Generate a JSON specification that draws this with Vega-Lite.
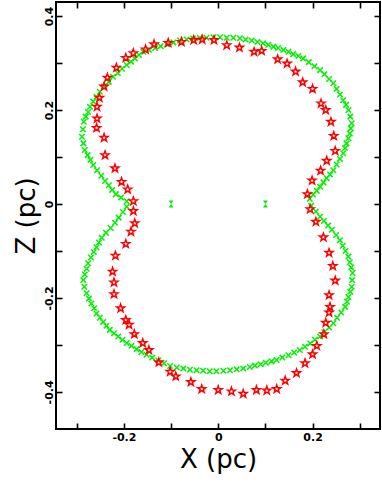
{
"$schema":"https://vega.github.io/schema/vega-lite/v6.json",
"width":324,"height":427,"autosize":"none",
"padding":{"left":56,"top":2,"right":2,"bottom":55},
"background":"white",
"config":{"view":{"stroke":"black","strokeWidth":2},
"axis":{"domain":false,"grid":false,"tickColor":"black","tickSize":-6,"tickWidth":1.6,
"labelFont":"DejaVu Sans","labelFontWeight":"bold","labelFontSize":11,"labelColor":"black",
"titleFont":"DejaVu Sans","titleFontWeight":"normal","titleFontSize":26,"titleColor":"black"}},
"datasets":{
"green":[
{"x":0.194,"z":0.011},{"x":0.201,"z":0.020},{"x":0.209,"z":0.028},{"x":0.216,"z":0.037},{"x":0.223,"z":0.046},{"x":0.230,"z":0.055},{"x":0.237,"z":0.063},{"x":0.244,"z":0.072},{"x":0.251,"z":0.084},{"x":0.258,"z":0.096},{"x":0.265,"z":0.108},{"x":0.269,"z":0.119},{"x":0.272,"z":0.129},{"x":0.276,"z":0.140},{"x":0.279,"z":0.150},{"x":0.281,"z":0.161},{"x":0.283,"z":0.172},{"x":0.280,"z":0.186},{"x":0.276,"z":0.200},{"x":0.271,"z":0.211},{"x":0.265,"z":0.221},{"x":0.258,"z":0.233},{"x":0.251,"z":0.245},{"x":0.244,"z":0.257},{"x":0.235,"z":0.266},{"x":0.225,"z":0.276},{"x":0.216,"z":0.285},{"x":0.204,"z":0.293},{"x":0.192,"z":0.302},{"x":0.180,"z":0.310},{"x":0.170,"z":0.315},{"x":0.159,"z":0.319},{"x":0.149,"z":0.324},{"x":0.138,"z":0.328},{"x":0.127,"z":0.332},{"x":0.117,"z":0.335},{"x":0.106,"z":0.339},{"x":0.095,"z":0.342},{"x":0.083,"z":0.345},{"x":0.071,"z":0.348},{"x":0.058,"z":0.350},{"x":0.046,"z":0.353},{"x":0.032,"z":0.354},{"x":0.018,"z":0.354},{"x":0.004,"z":0.355},{"x":-0.010,"z":0.355},{"x":-0.025,"z":0.354},{"x":-0.039,"z":0.354},{"x":-0.053,"z":0.352},{"x":-0.067,"z":0.350},{"x":-0.081,"z":0.348},{"x":-0.095,"z":0.344},{"x":-0.109,"z":0.340},{"x":-0.122,"z":0.336},{"x":-0.134,"z":0.332},{"x":-0.147,"z":0.328},{"x":-0.159,"z":0.324},{"x":-0.168,"z":0.317},{"x":-0.177,"z":0.310},{"x":-0.185,"z":0.303},{"x":-0.194,"z":0.296},{"x":-0.204,"z":0.288},{"x":-0.213,"z":0.279},{"x":-0.223,"z":0.271},{"x":-0.232,"z":0.260},{"x":-0.242,"z":0.250},{"x":-0.251,"z":0.239},{"x":-0.258,"z":0.228},{"x":-0.265,"z":0.218},{"x":-0.272,"z":0.207},{"x":-0.276,"z":0.196},{"x":-0.281,"z":0.186},{"x":-0.285,"z":0.175},{"x":-0.287,"z":0.159},{"x":-0.289,"z":0.143},{"x":-0.286,"z":0.129},{"x":-0.283,"z":0.115},{"x":-0.277,"z":0.104},{"x":-0.271,"z":0.094},{"x":-0.265,"z":0.083},{"x":-0.257,"z":0.072},{"x":-0.248,"z":0.060},{"x":-0.240,"z":0.049},{"x":-0.232,"z":0.040},{"x":-0.225,"z":0.030},{"x":-0.217,"z":0.021},{"x":-0.206,"z":0.014},{"x":-0.194,"z":0.006},
{"x":-0.194,"z":-0.006},{"x":-0.202,"z":-0.017},{"x":-0.211,"z":-0.029},{"x":-0.219,"z":-0.040},{"x":-0.228,"z":-0.051},{"x":-0.238,"z":-0.061},{"x":-0.247,"z":-0.072},{"x":-0.253,"z":-0.082},{"x":-0.258,"z":-0.092},{"x":-0.264,"z":-0.102},{"x":-0.270,"z":-0.114},{"x":-0.276,"z":-0.126},{"x":-0.279,"z":-0.138},{"x":-0.283,"z":-0.150},{"x":-0.286,"z":-0.162},{"x":-0.284,"z":-0.176},{"x":-0.279,"z":-0.190},{"x":-0.274,"z":-0.201},{"x":-0.269,"z":-0.212},{"x":-0.263,"z":-0.222},{"x":-0.258,"z":-0.233},{"x":-0.251,"z":-0.242},{"x":-0.244,"z":-0.251},{"x":-0.237,"z":-0.259},{"x":-0.230,"z":-0.268},{"x":-0.221,"z":-0.275},{"x":-0.212,"z":-0.282},{"x":-0.203,"z":-0.289},{"x":-0.194,"z":-0.296},{"x":-0.184,"z":-0.302},{"x":-0.173,"z":-0.309},{"x":-0.163,"z":-0.315},{"x":-0.152,"z":-0.321},{"x":-0.140,"z":-0.327},{"x":-0.127,"z":-0.333},{"x":-0.115,"z":-0.339},{"x":-0.102,"z":-0.345},{"x":-0.088,"z":-0.348},{"x":-0.074,"z":-0.350},{"x":-0.060,"z":-0.353},{"x":-0.046,"z":-0.354},{"x":-0.032,"z":-0.355},{"x":-0.018,"z":-0.356},{"x":-0.004,"z":-0.356},{"x":0.011,"z":-0.355},{"x":0.025,"z":-0.354},{"x":0.039,"z":-0.352},{"x":0.053,"z":-0.350},{"x":0.067,"z":-0.347},{"x":0.078,"z":-0.344},{"x":0.090,"z":-0.341},{"x":0.101,"z":-0.338},{"x":0.113,"z":-0.335},{"x":0.124,"z":-0.332},{"x":0.136,"z":-0.327},{"x":0.149,"z":-0.322},{"x":0.161,"z":-0.316},{"x":0.173,"z":-0.311},{"x":0.184,"z":-0.304},{"x":0.195,"z":-0.297},{"x":0.205,"z":-0.289},{"x":0.216,"z":-0.282},{"x":0.225,"z":-0.273},{"x":0.235,"z":-0.263},{"x":0.244,"z":-0.254},{"x":0.252,"z":-0.242},{"x":0.261,"z":-0.231},{"x":0.269,"z":-0.219},{"x":0.273,"z":-0.208},{"x":0.276,"z":-0.198},{"x":0.280,"z":-0.187},{"x":0.283,"z":-0.176},{"x":0.284,"z":-0.162},{"x":0.285,"z":-0.147},{"x":0.282,"z":-0.135},{"x":0.279,"z":-0.124},{"x":0.276,"z":-0.112},{"x":0.270,"z":-0.100},{"x":0.264,"z":-0.089},{"x":0.258,"z":-0.077},{"x":0.250,"z":-0.066},{"x":0.241,"z":-0.055},{"x":0.233,"z":-0.046},{"x":0.224,"z":-0.036},{"x":0.216,"z":-0.027},{"x":0.207,"z":-0.016},{"x":0.197,"z":-0.004}
],
"red":[
{"x":0.189,"z":0.021},{"x":0.195,"z":-0.011},{"x":0.207,"z":-0.038},{"x":0.223,"z":-0.071},{"x":0.199,"z":0.050},{"x":0.217,"z":0.071},{"x":0.230,"z":0.092},{"x":0.248,"z":0.113},{"x":0.245,"z":0.145},{"x":0.239,"z":0.175},{"x":0.228,"z":0.200},{"x":0.218,"z":0.214},{"x":0.200,"z":0.245},{"x":0.179,"z":0.259},{"x":0.164,"z":0.282},{"x":0.146,"z":0.299},{"x":0.126,"z":0.308},{"x":0.092,"z":0.326},{"x":0.076,"z":0.324},{"x":0.045,"z":0.333},{"x":0.018,"z":0.338},{"x":-0.009,"z":0.349},{"x":-0.034,"z":0.350},{"x":-0.052,"z":0.349},{"x":-0.078,"z":0.345},{"x":-0.106,"z":0.343},{"x":-0.136,"z":0.340},{"x":-0.154,"z":0.329},{"x":-0.180,"z":0.321},{"x":-0.196,"z":0.311},{"x":-0.216,"z":0.290},{"x":-0.235,"z":0.269},{"x":-0.242,"z":0.250},{"x":-0.252,"z":0.226},{"x":-0.257,"z":0.207},{"x":-0.257,"z":0.182},{"x":-0.258,"z":0.162},{"x":-0.242,"z":0.141},{"x":-0.240,"z":0.104},{"x":-0.219,"z":0.076},{"x":-0.205,"z":0.047},{"x":-0.192,"z":0.031},{"x":-0.180,"z":0.006},{"x":-0.180,"z":-0.015},{"x":-0.177,"z":-0.041},{"x":-0.185,"z":-0.059},{"x":-0.196,"z":-0.085},{"x":-0.218,"z":-0.110},{"x":-0.224,"z":-0.144},{"x":-0.221,"z":-0.167},{"x":-0.221,"z":-0.192},{"x":-0.207,"z":-0.222},{"x":-0.196,"z":-0.247},{"x":-0.189,"z":-0.257},{"x":-0.178,"z":-0.277},{"x":-0.160,"z":-0.296},{"x":-0.147,"z":-0.311},{"x":-0.126,"z":-0.337},{"x":-0.102,"z":-0.357},{"x":-0.090,"z":-0.367},{"x":-0.058,"z":-0.379},{"x":-0.035,"z":-0.394},{"x":0.000,"z":-0.396},{"x":0.028,"z":-0.399},{"x":0.053,"z":-0.404},{"x":0.081,"z":-0.396},{"x":0.103,"z":-0.397},{"x":0.124,"z":-0.394},{"x":0.142,"z":-0.376},{"x":0.166,"z":-0.360},{"x":0.184,"z":-0.339},{"x":0.200,"z":-0.320},{"x":0.209,"z":-0.302},{"x":0.224,"z":-0.277},{"x":0.228,"z":-0.253},{"x":0.235,"z":-0.231},{"x":0.237,"z":-0.219},{"x":0.235,"z":-0.194},{"x":0.248,"z":-0.163},{"x":0.243,"z":-0.132},{"x":0.235,"z":-0.104}
],
"pts":[{"x":-0.1,"z":0},{"x":0.1,"z":0}]
},
"layer":[
{"data":{"name":"green"},
"mark":{"type":"point","shape":"M-1,-1L1,1M-1,1L1,-1","size":30,"filled":false,"color":"#00f000","strokeWidth":1.5,"opacity":1},
"encoding":{
"x":{"field":"x","type":"quantitative","scale":{"domain":[-0.344,0.343],"nice":false,"zero":false},
"axis":{"orient":"bottom","values":[-0.3,-0.2,-0.1,0,0.1,0.2,0.3],"labelExpr":"abs(abs(datum.value)-0.2)<0.001 ? replace(format(datum.value,'.1f'),'\u2212','-') : (datum.value==0 ? '0' : '')","labelPadding":8,"title":"X  (pc)","titlePadding":4,"labelFlush":false}},
"y":{"field":"z","type":"quantitative","scale":{"domain":[-0.479,0.43],"nice":false,"zero":false},
"axis":{"orient":"left","values":[-0.4,-0.3,-0.2,-0.1,0,0.1,0.2,0.3,0.4],"labelExpr":"abs(abs(datum.value)-0.2)<0.001 || abs(abs(datum.value)-0.4)<0.001 ? replace(format(datum.value,'.1f'),'\u2212','-') : (datum.value==0 ? '0' : '')","labelAngle":-90,"labelAlign":"center","labelBaseline":"bottom","labelPadding":8,"title":"Z  (pc)","titlePadding":4,"labelFlush":false}}}},
{"data":{"name":"red"},
"mark":{"type":"point","shape":"M0,-1L0.235,-0.324L0.951,-0.309L0.380,0.124L0.588,0.809L0,0.4L-0.588,0.809L-0.380,0.124L-0.951,-0.309L-0.235,-0.324Z","size":68,"filled":false,"color":"#ff0000","strokeWidth":1.5,"opacity":1},
"encoding":{
"x":{"field":"x","type":"quantitative","axis":{"orient":"top","values":[-0.3,-0.2,-0.1,0,0.1,0.2,0.3],"labels":false,"title":null}},
"y":{"field":"z","type":"quantitative","axis":{"orient":"right","values":[-0.4,-0.3,-0.2,-0.1,0,0.1,0.2,0.3,0.4],"labels":false,"title":null}}}},
{"data":{"name":"pts"},
"mark":{"type":"point","shape":"M-0.7,-1L0.7,-1L-0.7,1L0.7,1Z","size":49,"filled":true,"color":"#00f000","opacity":1},
"encoding":{
"x":{"field":"x","type":"quantitative","axis":null},
"y":{"field":"z","type":"quantitative","axis":null}}}
],
"resolve":{"axis":{"x":"independent","y":"independent"}}
}
